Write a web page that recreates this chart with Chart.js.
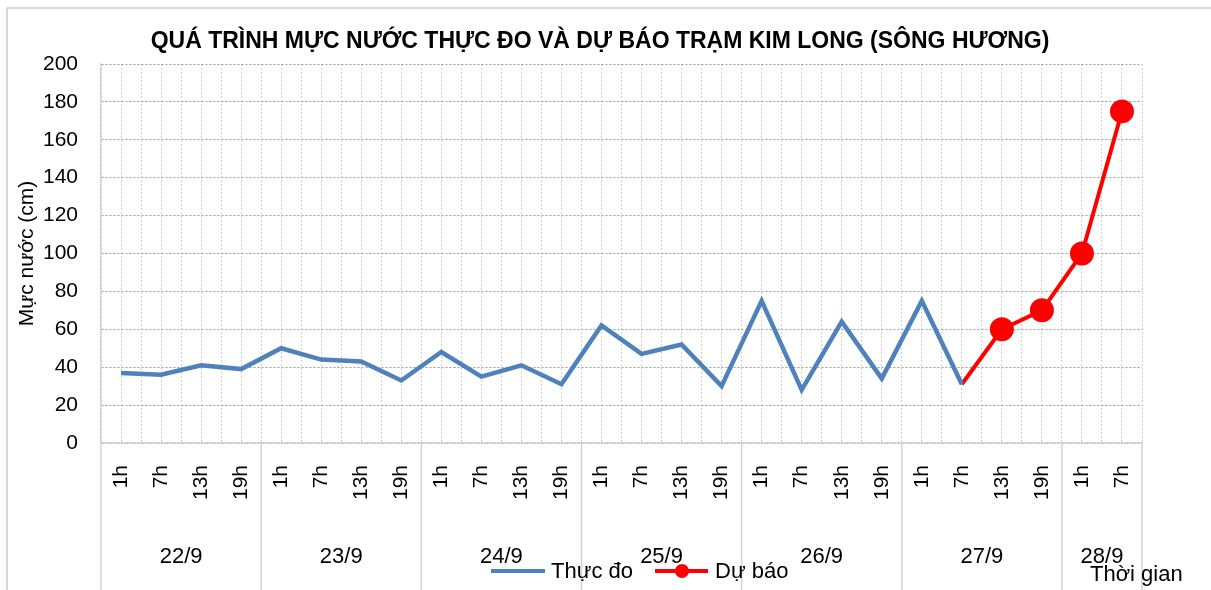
<!DOCTYPE html>
<html>
<head>
<meta charset="utf-8">
<script src="https://cdn.jsdelivr.net/npm/chart.js@4.4.1/dist/chart.umd.min.js"></script>
<style>
  html, body { margin: 0; padding: 0; background: #fff; }
  #wrap { width: 1211px; height: 590px; position: relative; }
</style>
</head>
<body>
<div id="wrap"><canvas id="chart"></canvas></div>
<script>
// Hour labels (x axis, lower level)
const hours = [
    '1h', '7h', '13h', '19h',
    '1h', '7h', '13h', '19h',
    '1h', '7h', '13h', '19h',
    '1h', '7h', '13h', '19h',
    '1h', '7h', '13h', '19h',
    '1h', '7h', '13h', '19h',
    '1h', '7h'
];
// Day groups (x axis, upper level) and how many hours each covers
const days = ['22/9', '23/9', '24/9', '25/9', '26/9', '27/9', '28/9'];
const daySpan = [4, 4, 4, 4, 4, 4, 2];

// Water level (cm)
const measured = [37, 36, 41, 39, 50, 44, 43, 33, 48, 35, 41, 31, 62, 47, 52, 30, 75, 28, 64, 34, 75, 31,
    null, null, null, null];
const forecast = [null, null, null, null, null, null, null, null, null, null, null, null, null, null,
    null, null, null, null, null, null, null, 31, 60, 70, 100, 175];

const yTicks = { min: 0, max: 200, step: 20 };

const FONT = "'Liberation Sans', Arial, sans-serif";
const BLUE = '#4f81bd';
const RED = '#ff0000';
const AXIS_GRAY = '#d4d4d4';

// Title, day labels, separators, legend, "Thời gian"
const decorations = {
    id: 'decorations',
    beforeDraw(chart) {
        const ctx = chart.ctx;
        ctx.save();
        ctx.fillStyle = '#fff';
        ctx.fillRect(0, 0, chart.width, chart.height);
        ctx.strokeStyle = '#d9d9d9';
        ctx.lineWidth = 2;
        ctx.strokeRect(7, 8, chart.width + 20, chart.height + 20);
        ctx.restore();
    },
    afterDraw(chart) {
        const ctx = chart.ctx;
        const x = chart.scales.x;
        const area = chart.chartArea;
        const half = (x.getPixelForValue(1) - x.getPixelForValue(0)) / 2;
        ctx.save();

        // title
        ctx.fillStyle = '#000';
        ctx.font = "bold 23px " + FONT;
        ctx.textAlign = 'center';
        ctx.textBaseline = 'middle';
        ctx.fillText('QUÁ TRÌNH MỰC NƯỚC THỰC ĐO VÀ DỰ BÁO TRẠM KIM LONG (SÔNG HƯƠNG)', 600, 42);

        // day separators and labels
        ctx.strokeStyle = AXIS_GRAY;
        ctx.lineWidth = 1.5;
        ctx.font = "22px " + FONT;
        let start = 0;
        let r = 0;
        days.forEach((d, i) => {
            const end = start + daySpan[i];
            const l = x.getPixelForValue(start) - half;
            r = x.getPixelForValue(end - 1) + half;
            ctx.beginPath();
            ctx.moveTo(l, area.bottom);
            ctx.lineTo(l, chart.height);
            ctx.stroke();
            ctx.fillText(d, (l + r) / 2, 557);
            start = end;
        });
        ctx.beginPath();
        ctx.moveTo(r, area.bottom);
        ctx.lineTo(r, chart.height);
        ctx.stroke();

        // legend
        const ds = chart.data.datasets;
        ctx.font = "22px " + FONT;
        ctx.textAlign = 'left';
        ctx.lineWidth = 4;
        ctx.strokeStyle = ds[0].borderColor;
        ctx.beginPath();
        ctx.moveTo(491, 571);
        ctx.lineTo(545, 571);
        ctx.stroke();
        ctx.fillStyle = '#000';
        ctx.fillText(ds[0].label, 551, 572);
        ctx.strokeStyle = ds[1].borderColor;
        ctx.beginPath();
        ctx.moveTo(655, 571);
        ctx.lineTo(708, 571);
        ctx.stroke();
        ctx.fillStyle = ds[1].backgroundColor;
        ctx.beginPath();
        ctx.arc(682, 571, 7, 0, Math.PI * 2);
        ctx.fill();
        ctx.fillStyle = '#000';
        ctx.fillText(ds[1].label, 715, 572);

        // x axis title
        ctx.fillText('Thời gian', 1090, 575);
        ctx.restore();
    }
};

new Chart(document.getElementById('chart'), {
    type: 'line',
    data: {
        labels: hours,
        datasets: [
            {
                label: 'Thực đo',
                data: measured,
                borderColor: BLUE,
                backgroundColor: BLUE,
                borderWidth: 4.5,
                pointRadius: 0,
                tension: 0
            },
            {
                label: 'Dự báo',
                data: forecast,
                borderColor: RED,
                backgroundColor: RED,
                borderWidth: 4,
                pointRadius: forecast.map((v, i) => (i === 21 ? 0 : 10)),
                pointHoverRadius: 10,
                tension: 0
            }
        ]
    },
    options: {
        responsive: true,
        maintainAspectRatio: false,
        animation: false,
        events: [],
        layout: { padding: { left: 0, right: 69, top: 64, bottom: 0 } },
        plugins: {
            legend: { display: false },
            title: { display: false },
            tooltip: { enabled: false }
        },
        scales: {
            x: {
                type: 'category',
                offset: true,
                grid: { display: false, drawTicks: false },
                border: { display: true, color: AXIS_GRAY, width: 1.5 },
                ticks: {
                    autoSkip: false,
                    maxRotation: 90,
                    minRotation: 90,
                    padding: 22,
                    color: '#000',
                    font: { family: FONT, size: 21 }
                },
                afterFit(scale) { scale.height = 147; }
            },
            xg: {
                type: 'linear',
                position: 'bottom',
                min: -0.5,
                max: hours.length - 0.5,
                afterBuildTicks(scale) {
                    const t = [];
                    for (let v = -0.5; v <= hours.length - 0.5; v += 0.5) t.push({ value: v });
                    scale.ticks = t;
                },
                grid: { color: '#cfcfcf', lineWidth: 1, drawTicks: false },
                border: { display: false, dash: [2, 2] },
                ticks: { display: false },
                afterFit(scale) { scale.height = 0; }
            },
            y: {
                min: yTicks.min,
                max: yTicks.max,
                ticks: {
                    stepSize: yTicks.step,
                    padding: 23,
                    color: '#000',
                    font: { family: FONT, size: 21 }
                },
                grid: { color: '#9a9a9a', lineWidth: 1, drawTicks: false },
                border: { display: true, color: AXIS_GRAY, width: 1.5, dash: [2, 2] },
                title: {
                    display: true,
                    text: 'Mực nước (cm)',
                    color: '#000',
                    font: { family: FONT, size: 21 },
                    padding: { top: 15, bottom: 0 }
                },
                afterFit(scale) { scale.width = 101; }
            }
        }
    },
    plugins: [decorations]
});
</script>
</body>
</html>
